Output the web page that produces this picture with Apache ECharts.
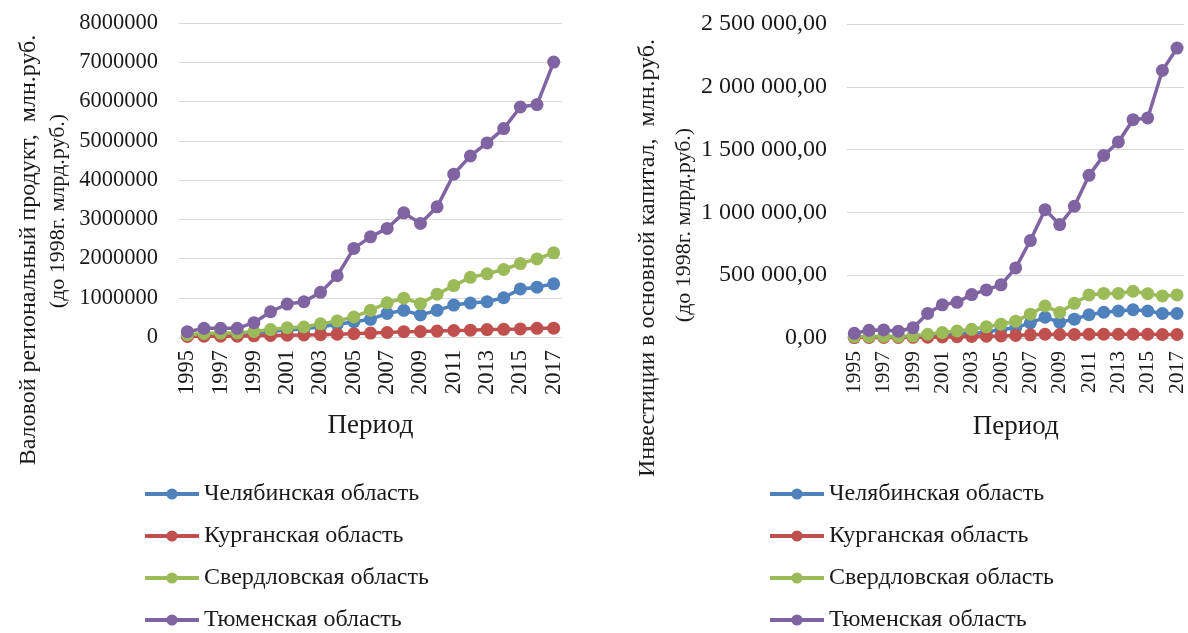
<!DOCTYPE html>
<html>
<head>
<meta charset="utf-8">
<script src="https://cdn.jsdelivr.net/npm/echarts@6/dist/echarts.min.js"></script>
<style>
html,body{margin:0;padding:0;background:#fff;}
#chart{width:1188px;height:633px;}
</style>
</head>
<body>
<div id="chart"></div>
<script>
const years = ['1995','1996','1997','1998','1999','2000','2001','2002','2003','2004','2005','2006','2007','2008','2009','2010','2011','2012','2013','2014','2015','2016','2017'];
const seriesNames = ['Челябинская область','Курганская область','Свердловская область','Тюменская область'];

// Left: ВРП
const chelGRP = [40000,55000,65000,70000,100000,140000,180000,210000,260000,320000,390000,450000,600000,680000,560000,680000,814000,865000,898000,1000000,1225000,1270000,1355000];
const kurgGRP = [15000,20000,22000,22000,30000,38000,45000,52000,60000,72000,85000,100000,115000,135000,140000,150000,165000,175000,190000,195000,205000,220000,225000];
const sverGRP = [60000,90000,100000,105000,140000,190000,235000,255000,335000,410000,510000,680000,870000,990000,850000,1090000,1310000,1520000,1610000,1720000,1870000,1990000,2145000];
const tyumGRP = [135000,220000,220000,220000,364000,644000,840000,898000,1137000,1560000,2257000,2552000,2766000,3163000,2893000,3316000,4148000,4613000,4944000,5310000,5860000,5921000,7005000];

// Right: Инвестиции
const chelInv = [8000,10000,10000,10000,12000,20000,25000,30000,35000,45000,70000,80000,121000,165000,125000,150000,185000,205000,215000,225000,215000,195000,195000];
const kurgInv = [3000,4000,4000,4000,5000,6000,8000,10000,12000,14000,16000,20000,25000,30000,28000,28000,30000,30000,30000,30000,30000,28000,28000];
const sverInv = [10000,12000,12000,12000,15000,30000,43000,56000,69000,89000,110000,134000,190000,255000,203000,276000,343000,355000,355000,372000,353000,335000,343000];
const tyumInv = [37000,61000,64000,54000,81000,196000,264000,284000,346000,383000,423000,558000,776000,1022000,903000,1049000,1295000,1454000,1561000,1738000,1752000,2130000,2308000];

const leftTitle = ['Валовой региональный продукт,  млн.руб.','(до 1998г. млрд.руб.)'];
const rightTitle = ['Инвестиции в основной капитал,  млн.руб.','(до 1998г. млрд.руб.)'];
const xName = 'Период';

const colors = ['#4F81BD','#C0504D','#9BBB59','#8064A2'];
const FONT = '"Liberation Serif","Times New Roman",serif';
const TXT = '#1a1a1a';

function fmtRu(v){
  const s = Math.round(v).toString().replace(/\B(?=(\d{3})+(?!\d))/g,' ');
  return s + ',00';
}

function xAxisCfg(gi, fs){
  return {
    type:'category', gridIndex:gi, data:years, boundaryGap:true,
    name:xName, nameLocation:'middle', nameGap:75,
    nameTextStyle:{fontFamily:FONT,fontSize:27,color:TXT},
    axisLine:{show:false}, axisTick:{show:false},
    axisLabel:{interval:1, rotate:90, margin:13, fontFamily:FONT, fontSize:fs, color:TXT}
  };
}

function mkSeries(name, data, idx, gi){
  return {
    type:'line', name:name, xAxisIndex:gi, yAxisIndex:gi, data:data,
    symbol:'circle', symbolSize:13, showSymbol:true, showAllSymbol:true,
    lineStyle:{width:3.5,color:colors[idx]},
    itemStyle:{color:colors[idx]},
    emphasis:{disabled:true}, animation:false
  };
}

function legendCfg(left){
  return {orient:'vertical', left:left, top:482, height:170, padding:0,
    itemWidth:54, itemHeight:14, itemGap:18,
    lineStyle:{width:4},
    data:seriesNames, selectedMode:false,
    textStyle:{fontFamily:FONT,fontSize:24,color:TXT,lineHeight:22}};
}

const chart = echarts.init(document.getElementById('chart'));
const option = {
  animation:false,
  backgroundColor:'#fff',
  grid:[
    {left:179, top:23, width:383, height:314, containLabel:false},
    {left:847, top:24, width:340, height:314, containLabel:false}
  ],
  xAxis:[xAxisCfg(0, 22.5), xAxisCfg(1, 21.5)],
  yAxis:[
    {type:'value', gridIndex:0, min:0, max:8000000, interval:1000000,
     axisLine:{show:false}, axisTick:{show:false},
     splitLine:{lineStyle:{color:'#D9D9D9',width:1.2}},
     axisLabel:{fontFamily:FONT,fontSize:22.5,color:TXT,margin:21,formatter:function(v){return String(v);}}},
    {type:'value', gridIndex:1, min:0, max:2500000, interval:500000,
     axisLine:{show:false}, axisTick:{show:false},
     splitLine:{lineStyle:{color:'#D9D9D9',width:1.2}},
     axisLabel:{fontFamily:FONT,fontSize:24,color:TXT,margin:20,formatter:fmtRu}}
  ],
  legend:[legendCfg(143), legendCfg(768)],
  graphic:[
    {type:'text', x:29, y:250, rotation:Math.PI/2,
     style:{text:leftTitle[0], font:'24px '+FONT, fill:TXT, align:'center', verticalAlign:'middle'}},
    {type:'text', x:58, y:211, rotation:Math.PI/2,
     style:{text:leftTitle[1], font:'22px '+FONT, fill:TXT, align:'center', verticalAlign:'middle'}},
    {type:'text', x:648, y:258, rotation:Math.PI/2,
     style:{text:rightTitle[0], font:'24px '+FONT, fill:TXT, align:'center', verticalAlign:'middle'}},
    {type:'text', x:684, y:225, rotation:Math.PI/2,
     style:{text:rightTitle[1], font:'22px '+FONT, fill:TXT, align:'center', verticalAlign:'middle'}}
  ],
  series:[
    mkSeries(seriesNames[0], chelGRP, 0, 0),
    mkSeries(seriesNames[1], kurgGRP, 1, 0),
    mkSeries(seriesNames[2], sverGRP, 2, 0),
    mkSeries(seriesNames[3], tyumGRP, 3, 0),
    mkSeries(seriesNames[0], chelInv, 0, 1),
    mkSeries(seriesNames[1], kurgInv, 1, 1),
    mkSeries(seriesNames[2], sverInv, 2, 1),
    mkSeries(seriesNames[3], tyumInv, 3, 1)
  ]
};
chart.setOption(option);
</script>
</body>
</html>
